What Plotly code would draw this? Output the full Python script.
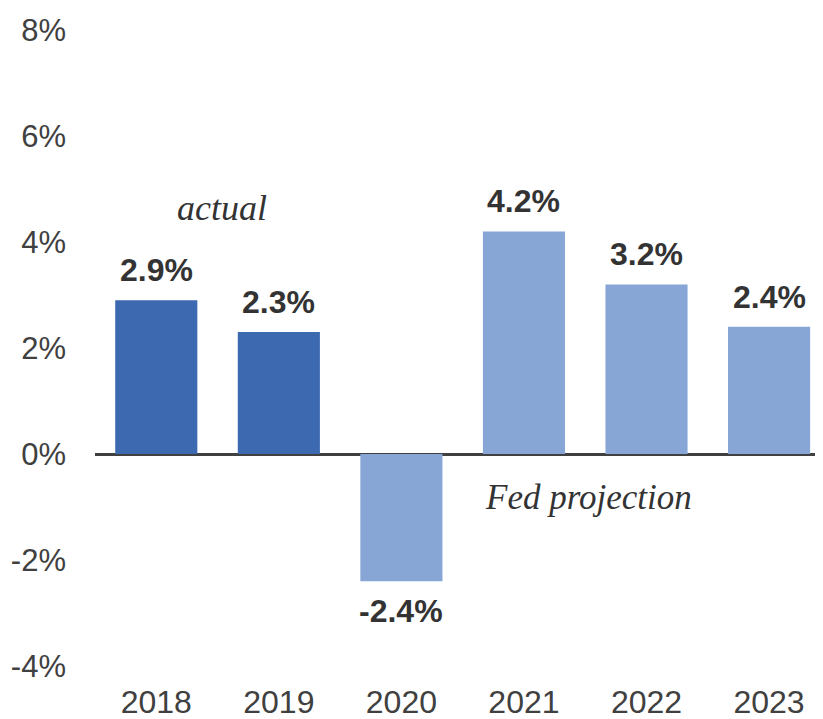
import plotly.graph_objects as go

years = ["2018", "2019", "2020", "2021", "2022", "2023"]
growth = [2.9, 2.3, -2.4, 4.2, 3.2, 2.4]
kind = ["actual", "actual", "projection", "projection", "projection", "projection"]
labels = ["2.9%", "2.3%", "-2.4%", "4.2%", "3.2%", "2.4%"]
ytick_vals = [-4, -2, 0, 2, 4, 6, 8]
ytick_text = ["-4%", "-2%", "0%", "2%", "4%", "6%", "8%"]

color_map = {"actual": "#3D69B1", "projection": "#87A6D6"}
colors = [color_map[k] for k in kind]

fig = go.Figure()
fig.add_trace(go.Bar(x=years, y=growth, marker=dict(color=colors, line=dict(width=0)),
                     hoverinfo="skip"))

for i, (v, t) in enumerate(zip(growth, labels)):
    fig.add_annotation(x=i, y=v, text="<b>" + t + "</b>", showarrow=False,
                       yshift=30 if v >= 0 else -30, yanchor="middle",
                       font=dict(family="Liberation Sans, Arial", size=32, color="#333333"))

fig.add_annotation(x=0.54, y=4.64, text="<i>actual</i>", showarrow=False,
                   font=dict(family="Liberation Serif, Times New Roman", size=36, color="#333333"))
fig.add_annotation(x=3.53, y=-0.83, text="<i>Fed projection</i>", showarrow=False,
                   font=dict(family="Liberation Serif, Times New Roman", size=35, color="#333333"))

fig.update_layout(
    width=815, height=711,
    margin=dict(l=87, r=0, t=22, b=53),
    paper_bgcolor="white", plot_bgcolor="white",
    bargap=0.33, showlegend=False,
    font=dict(family="Liberation Sans, Arial", color="#404040"),
)
fig.update_xaxes(type="category", range=[-0.5, 5.44], showgrid=False, showline=False, ticks="",
                 automargin=False,
                 tickfont=dict(size=32, color="#404040"), ticklabelstandoff=14)
fig.update_yaxes(range=[-4, 8], tickvals=ytick_vals, ticktext=ytick_text,
                 showgrid=False, showline=False, ticks="", automargin=False,
                 zeroline=True, zerolinecolor="#404040", zerolinewidth=3,
                 tickfont=dict(size=31, color="#404040"), ticklabelstandoff=28)

fig.write_html("out.html")
